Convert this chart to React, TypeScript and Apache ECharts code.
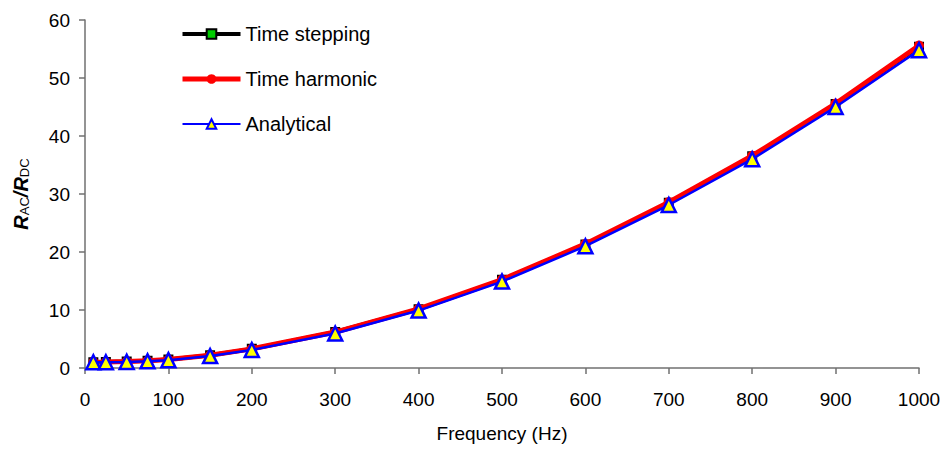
import React, { useEffect, useRef } from "react";
import * as echarts from "echarts";

const freq = [10, 25, 50, 75, 100, 150, 200, 300, 400, 500, 600, 700, 800, 900, 1000];
const timeStepping = [1.0, 1.02, 1.1, 1.25, 1.45, 2.2, 3.3, 6.2, 10.15, 15.2, 21.3, 28.5, 36.5, 45.5, 55.4];
const timeHarmonic = [1.0, 1.02, 1.1, 1.25, 1.45, 2.2, 3.3, 6.2, 10.2, 15.25, 21.4, 28.6, 36.6, 45.6, 55.6];
const analytical = [1.0, 1.0, 1.05, 1.15, 1.35, 2.05, 3.1, 5.95, 9.9, 14.9, 21.0, 28.1, 36.0, 45.0, 54.8];
const legendNames = ["Time stepping", "Time harmonic", "Analytical"];

const pair = (ys: number[]) => freq.map((f, i) => [f, ys[i]]);

export default function App() {
  const ref = useRef<HTMLDivElement>(null);
  useEffect(() => {
    const chart = echarts.init(ref.current!, undefined, { renderer: "svg" });
    const font = "Liberation Sans, Arial, sans-serif";
    const axisColor = "#707070";
    chart.setOption({
      animation: false,
      textStyle: { fontFamily: font },
      grid: { left: 85, right: 27, top: 20, bottom: 83 },
      legend: {
        orient: "vertical",
        left: 180,
        top: 24,
        padding: 0,
        itemWidth: 58,
        itemHeight: 12,
        itemGap: 25,
        textStyle: { fontSize: 20, color: "#000", fontFamily: font },
        data: [
          { name: legendNames[0], lineStyle: { width: 4, color: "#000" } },
          { name: legendNames[1], lineStyle: { width: 5, color: "#ff0000" } },
          { name: legendNames[2], lineStyle: { width: 2, color: "#0000ff" } },
        ],
      },
      xAxis: {
        type: "value",
        min: 0,
        max: 1000,
        interval: 100,
        name: "Frequency (Hz)",
        nameLocation: "middle",
        nameGap: 56,
        nameTextStyle: { fontSize: 19, color: "#000" },
        axisLine: { lineStyle: { color: axisColor, width: 1.5 } },
        axisTick: { inside: false, length: 6, lineStyle: { color: axisColor, width: 1.5 } },
        axisLabel: { fontSize: 19, color: "#000", margin: 22, formatter: (v: number) => String(v) },
        splitLine: { show: false },
      },
      yAxis: {
        type: "value",
        min: 0,
        max: 60,
        interval: 10,
        name: "{r|R}{s|AC}{r|/R}{s|DC}",
        nameLocation: "middle",
        nameGap: 54,
        nameRotate: 90,
        nameTextStyle: {
          rich: {
            r: { fontSize: 20, fontWeight: "bold", fontStyle: "italic", color: "#000", fontFamily: font },
            s: { fontSize: 13, color: "#000", fontFamily: font, padding: [8, 0, 0, 0] },
          },
        },
        axisLine: { show: true, lineStyle: { color: axisColor, width: 1.5 } },
        axisTick: { show: true, inside: false, length: 6, lineStyle: { color: axisColor, width: 1.5 } },
        axisLabel: { fontSize: 19, color: "#000", margin: 15 },
        splitLine: { show: false },
      },
      series: [
        {
          name: legendNames[0],
          type: "line",
          data: pair(timeStepping),
          lineStyle: { color: "#000", width: 4 },
          itemStyle: { color: "#00cc00", borderColor: "#000", borderWidth: 2 },
          symbol: "rect",
          symbolSize: 8,
          z: 2,
        },
        {
          name: legendNames[1],
          type: "line",
          data: pair(timeHarmonic),
          lineStyle: { color: "#ff0000", width: 5 },
          itemStyle: { color: "#ff0000" },
          symbol: "circle",
          symbolSize: 10,
          z: 3,
        },
        {
          name: legendNames[2],
          type: "line",
          data: pair(analytical),
          lineStyle: { color: "#0000ff", width: 2.5 },
          itemStyle: { color: "#ffff00", borderColor: "#0000ff", borderWidth: 2.5 },
          symbol: "triangle",
          symbolSize: 14,
          z: 4,
        },
      ],
    });
    return () => chart.dispose();
  }, []);
  return (
    <div
      ref={ref}
      style={{ position: "absolute", left: 0, top: 0, width: 946, height: 451 }}
    />
  );
}
